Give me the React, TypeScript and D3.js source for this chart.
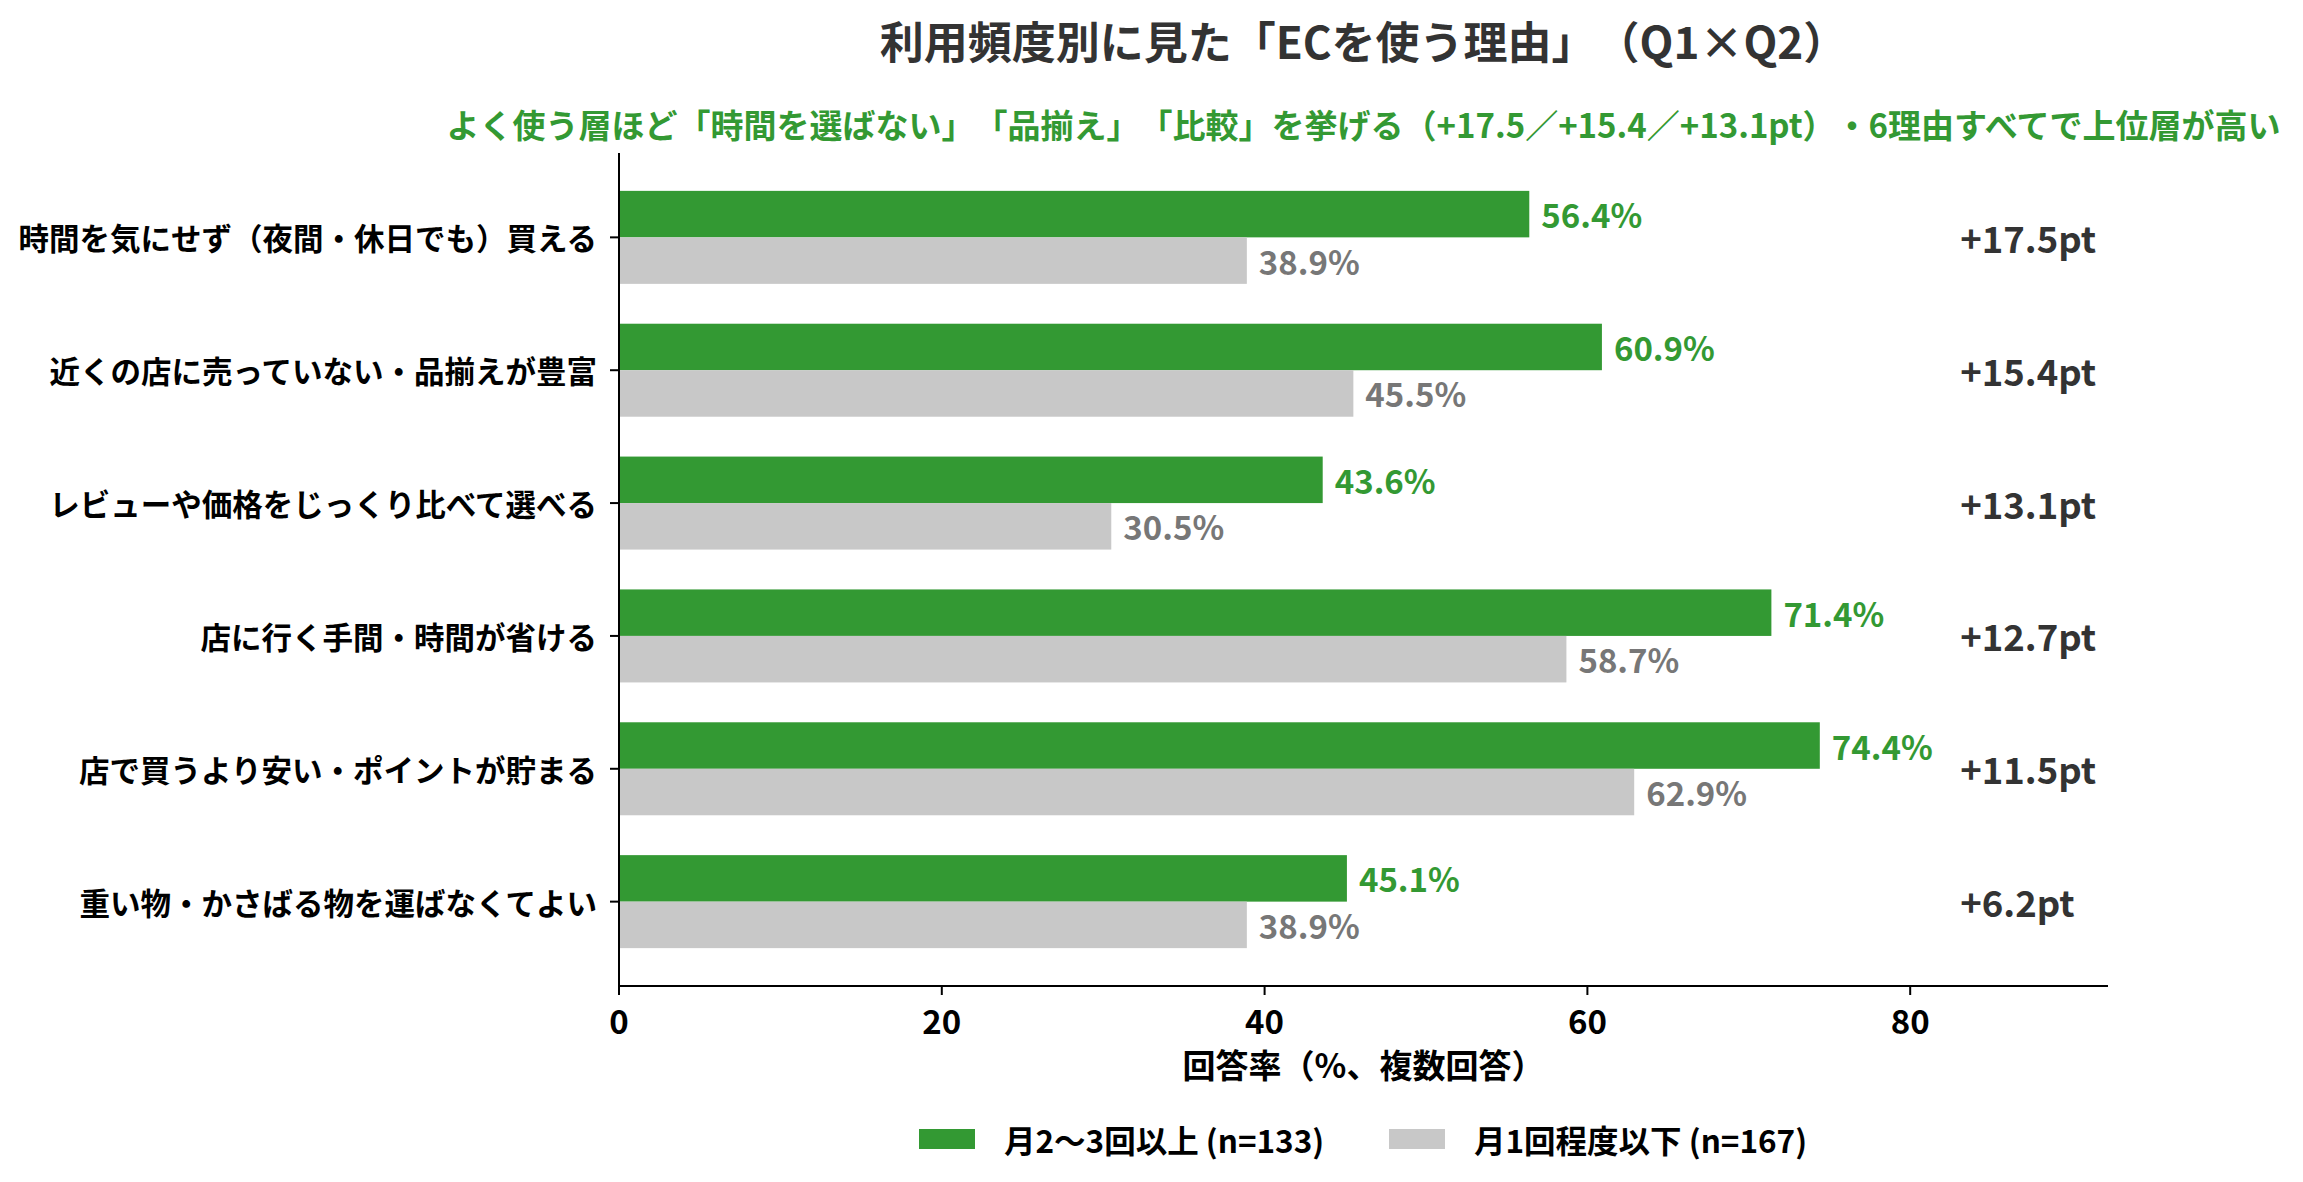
import React from 'react';
import * as d3 from 'd3';

// reasons (top to bottom)
const categories = [
  '時間を気にせず（夜間・休日でも）買える',
  '近くの店に売っていない・品揃えが豊富',
  'レビューや価格をじっくり比べて選べる',
  '店に行く手間・時間が省ける',
  '店で買うより安い・ポイントが貯まる',
  '重い物・かさばる物を運ばなくてよい',
];

// 月2〜3回以上 (n=133)
const highValues = [56.4, 60.9, 43.6, 71.4, 74.4, 45.1];
// 月1回程度以下 (n=167)
const lowValues = [38.9, 45.5, 30.5, 58.7, 62.9, 38.9];

const seriesNames = ['月2〜3回以上 (n=133)', '月1回程度以下 (n=167)'];
const xTicks = [0, 20, 40, 60, 80];

const title = '利用頻度別に見た「ECを使う理由」（Q1×Q2）';
const subtitle =
  'よく使う層ほど「時間を選ばない」「品揃え」「比較」を挙げる（+17.5／+15.4／+13.1pt）・6理由すべてで上位層が高い';
const xLabel = '回答率（%、複数回答）';

const W = 2303;
const H = 1182;
const FONT = '"Noto Sans CJK JP", "Noto Sans", sans-serif';
const GREEN = '#339933';
const GRAY = '#c8c8c8';

const margin = { left: 619, right: 2108, top: 153, bottom: 986 };
const barH = 0.35;

const App: React.FC = () => {
  const xMax = d3.max(highValues)! * 1.24;
  const x = d3.scaleLinear().domain([0, xMax]).range([margin.left, margin.right]);
  const y = d3
    .scaleLinear()
    .domain([-0.635, categories.length - 1 + 0.635])
    .range([margin.top, margin.bottom]);
  const bh = y(barH) - y(0);
  const diffX = x(83.1);
  const midX = (margin.left + margin.right) / 2;

  return (
    <div style={{ position: 'absolute', left: 0, top: 0 }}>
      <svg
        width={W}
        height={H}
        style={{ display: 'block', background: '#fff', textSpacingTrim: 'space-all' } as React.CSSProperties}
        fontFamily={FONT}
      >
        {/* titles */}
        <text x={midX} y={40} textAnchor="middle" dominantBaseline="central" fontSize={44} fontWeight={700} fill="#333">
          {title}
        </text>
        <text x={midX} y={124} textAnchor="middle" dominantBaseline="central" fontSize={33} fontWeight={700} fill={GREEN}>
          {subtitle}
        </text>

        {/* bars */}
        {categories.map((c, i) => (
          <g key={c}>
            <rect x={x(0)} y={y(i) - bh} width={x(highValues[i]) - x(0)} height={bh} fill={GREEN} />
            <rect x={x(0)} y={y(i)} width={x(lowValues[i]) - x(0)} height={bh} fill={GRAY} />
            <text x={x(highValues[i]) + 12} y={y(i) - bh / 2} dominantBaseline="central" fontSize={33} fontWeight={700} fill={GREEN}>
              {highValues[i].toFixed(1)}%
            </text>
            <text x={x(lowValues[i]) + 12} y={y(i) + bh / 2} dominantBaseline="central" fontSize={33} fontWeight={700} fill="#777">
              {lowValues[i].toFixed(1)}%
            </text>
            <text x={diffX} y={y(i)} dominantBaseline="central" fontSize={36.5} fontWeight={700} fill="#333">
              +{(highValues[i] - lowValues[i]).toFixed(1)}pt
            </text>
            {/* y tick + label */}
            <line x1={x(0) - 9} x2={x(0)} y1={y(i)} y2={y(i)} stroke="#000" strokeWidth={2} />
            <text x={x(0) - 22} y={y(i)} textAnchor="end" dominantBaseline="central" fontSize={30.5} fontWeight={700} fill="#000">
              {c}
            </text>
          </g>
        ))}

        {/* axes */}
        <line x1={margin.left} x2={margin.left} y1={margin.top} y2={margin.bottom} stroke="#000" strokeWidth={2} />
        <line x1={margin.left} x2={margin.right} y1={margin.bottom} y2={margin.bottom} stroke="#000" strokeWidth={2} />
        {xTicks.map((t) => (
          <g key={t}>
            <line x1={x(t)} x2={x(t)} y1={margin.bottom} y2={margin.bottom + 9} stroke="#000" strokeWidth={2} />
            <text x={x(t)} y={1020} textAnchor="middle" dominantBaseline="central" fontSize={33} fontWeight={700} fill="#000">
              {t}
            </text>
          </g>
        ))}
        <text x={midX} y={1064} textAnchor="middle" dominantBaseline="central" fontSize={33} fontWeight={700} fill="#000">
          {xLabel}
        </text>

        {/* legend */}
        {seriesNames.map((s, k) => {
          const lx = k === 0 ? 919 : 1389;
          return (
            <g key={s}>
              <rect x={lx} y={1129} width={56} height={20} fill={k === 0 ? GREEN : GRAY} />
              <text x={lx + 85} y={1139} dominantBaseline="central" fontSize={31.5} fontWeight={700} fill="#000">
                {s}
              </text>
            </g>
          );
        })}
      </svg>
    </div>
  );
};

export default App;
